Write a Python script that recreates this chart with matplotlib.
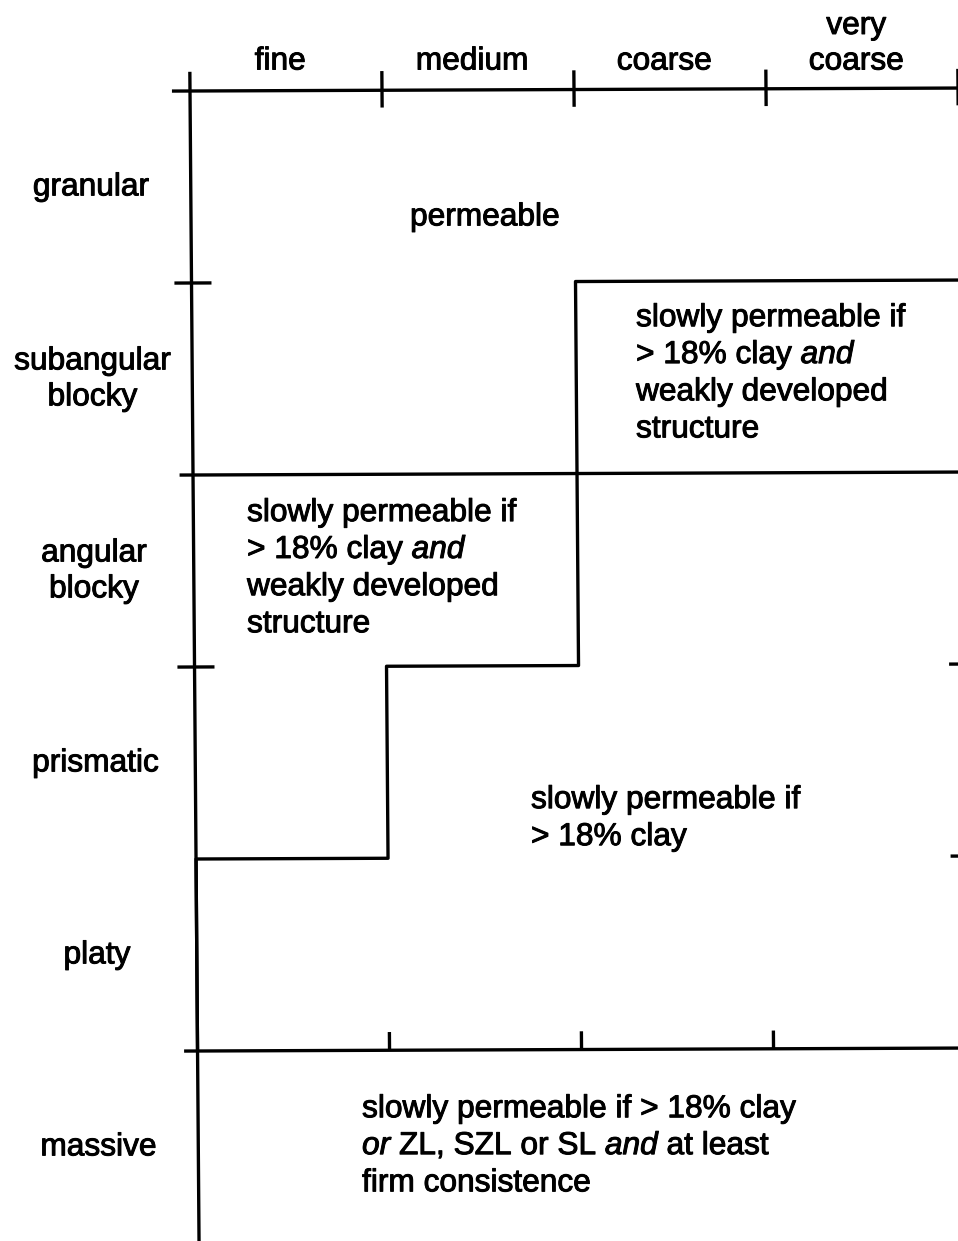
import matplotlib
matplotlib.use("Agg")
import matplotlib.pyplot as plt
import matplotlib.patheffects as pe
from matplotlib.transforms import Affine2D

plt.rcParams['font.family'] = ['Liberation Sans', 'DejaVu Sans']
plt.rcParams['mathtext.fontset'] = 'custom'
plt.rcParams['mathtext.rm'] = 'Liberation Sans'
plt.rcParams['mathtext.it'] = 'Liberation Sans:italic'

# Size classes (columns) and structure types (rows)
size_classes = ["fine", "medium", "coarse", "very\ncoarse"]
structure_types = ["granular", "subangular\nblocky", "angular\nblocky",
                   "prismatic", "platy", "massive"]

# first size class (column index) that is "slowly permeable", per structured row
slow_start = [4, 2, 2, 1, 0]

# full-width separators between groups of rows
separators = [2, 5]

region_text = {
    "permeable": ["permeable"],
    "weak_right": ["slowly permeable if", r"> 18% clay $\mathit{and}$",
                   "weakly developed", "structure"],
    "weak_left": ["slowly permeable if", r"> 18% clay $\mathit{and}$",
                  "weakly developed", "structure"],
    "slow": ["slowly permeable if", "> 18% clay"],
    "massive": ["slowly permeable if > 18% clay",
                r"$\mathit{or}$ ZL, SZL or SL $\mathit{and}$ at least",
                "firm consistence"],
}

FS = 22.8
LW = 2.4
LINE_STEP = 0.193
INK = [pe.withStroke(linewidth=0.7, foreground='black')]

fig = plt.figure(figsize=(9.58, 12.41), dpi=100)
ax = fig.add_axes([0, 0, 1, 1])
ax.set_xlim(-190 / 192, 4.0)
ax.set_ylim(1150 / 192, -91 / 192)
ax.axis('off')

# slight scan shear for the line work
fig.canvas.draw()
x0, y0 = ax.transData.transform((0, 0))
skew = ax.transData + (Affine2D().translate(-x0, -y0)
                       .skew_deg(-0.45, 0.22).translate(x0, y0))


def seg(xs, ys):
    ax.plot(xs, ys, color='black', lw=LW, solid_capstyle='butt',
            transform=skew, clip_on=False)


n_cols = len(size_classes)
n_rows = len(structure_types)

# main axes
seg([-0.094, n_cols], [0, 0])
seg([0, 0], [-0.1, n_rows + 0.1])

# top ticks
for c in range(1, n_cols + 1):
    seg([c, c], [-0.1, 0.09])

# left ticks
for r in (1, 3):
    seg([-0.089, 0.104], [r, r])

# right ticks
for r in (3, 4):
    seg([3.93, n_cols], [r, r])

# separators
for r in separators:
    seg([-0.07, n_cols], [r, r])

# bottom ticks on massive separator
for c in range(1, n_cols):
    seg([c, c], [4.905, 5])

# step boundary built from slow_start
xs, ys = [], []
for r in range(len(slow_start) - 1, 0, -1):
    below = slow_start[r]
    above = slow_start[r - 1]
    if not xs:
        xs.append(below)
        ys.append(r + 1)
    xs.append(below)
    ys.append(r)
    if above != below:
        xs.append(above)
        ys.append(r)
seg(xs, ys)

# column labels
for c, lab in enumerate(size_classes):
    ax.text(c + 0.47, -0.112, lab, ha='center', va='baseline',
            fontsize=FS, linespacing=1.24, path_effects=INK)

# row labels (follow the sheared left axis)
for r, lab in enumerate(structure_types):
    ax.text(-0.52, r + 0.5, lab, ha='center', va='center', transform=skew,
            fontsize=FS, linespacing=1.26, path_effects=INK)


def block(x, y, lines):
    for i, ln in enumerate(lines):
        ax.text(x, y + i * LINE_STEP, ln, ha='left', va='baseline',
                fontsize=FS, path_effects=INK)


block(1.146, 0.700, region_text["permeable"])
block(2.323, 1.225, region_text["weak_right"])
block(0.297, 2.240, region_text["weak_left"])
block(1.776, 3.735, region_text["slow"])
block(0.896, 5.345, region_text["massive"])

fig.savefig("out.png", dpi=100, facecolor='white')
